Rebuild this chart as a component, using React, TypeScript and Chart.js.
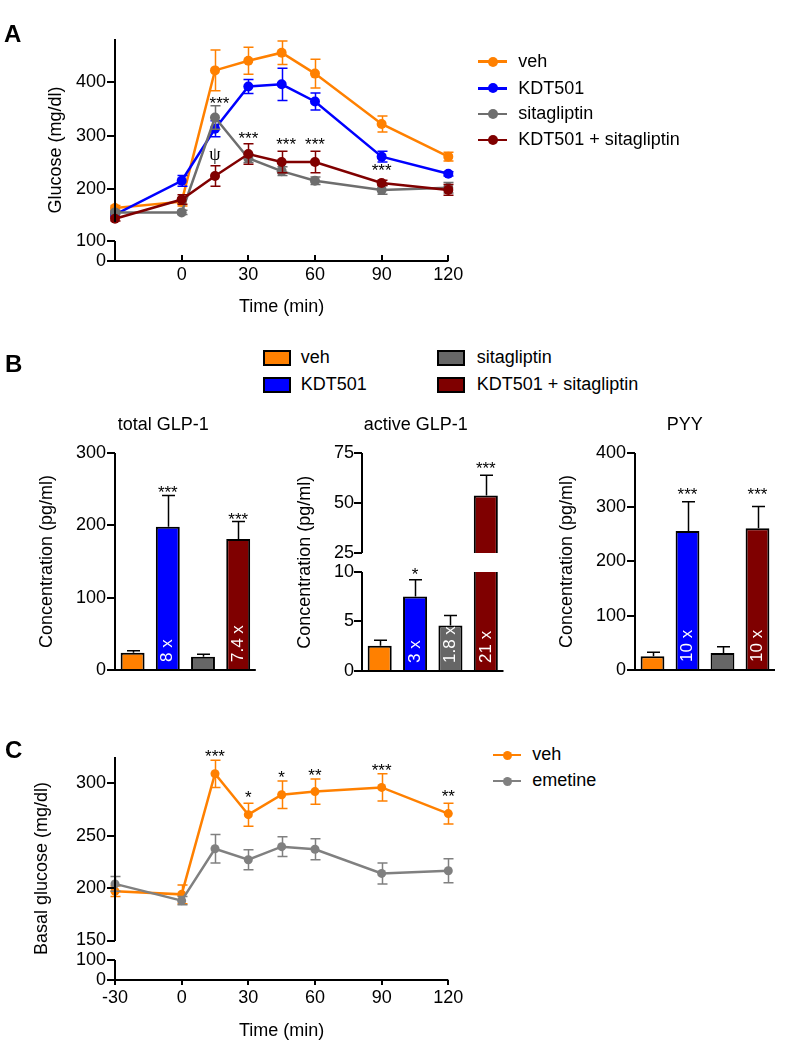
import React, { useEffect, useRef } from 'react';
import { Chart, registerables, LinearScale } from 'chart.js';

Chart.register(...registerables);

const FONT = '"Liberation Sans", Arial, Helvetica, sans-serif';
const SERIF = '"Liberation Serif", "DejaVu Serif", serif';

// ---------------- Panel A: glucose tolerance ----------------
const timeA = [-30, 0, 15, 30, 45, 60, 90, 120];
const vehA = [165, 177, 422, 440, 455, 416, 322, 261];
const vehSemA = [5, 8, 38, 25, 22, 27, 15, 8];
const kdtA = [153, 216, 313, 392, 396, 364, 261, 229];
const kdtSemA = [5, 10, 15, 13, 30, 16, 10, 4];
const sitaA = [157, 157, 334, 258, 234, 216, 199, 203];
const sitaSemA = [4, 4, 22, 8, 8, 7, 8, 10];
const comboA = [145, 181, 225, 266, 251, 251, 212, 199];
const comboSemA = [4, 9, 19, 19, 20, 20, 5, 10];
const namesA = ['veh', 'KDT501', 'sitagliptin', 'KDT501 + sitagliptin'];
const yTicksA = [0, 100, 200, 300, 400];
const xTicksA = [0, 30, 60, 90, 120];
const marksA = [
  { x: 17, y: 367, t: '***' },
  { x: 15, y: 262, t: 'ψ' },
  { x: 30, y: 302, t: '***' },
  { x: 47, y: 290, t: '***' },
  { x: 60, y: 290, t: '***' },
  { x: 90, y: 241, t: '***' },
];

// ---------------- Panel B: hormones ----------------
const groupsB = ['veh', 'KDT501', 'sitagliptin', 'KDT501 + sitagliptin'];
const totalGlp = [24, 198, 18.5, 181];
const totalGlpSem = [3, 43, 3.5, 24];
const totalGlpFold = ['', '8 x', '', '7.4 x'];
const totalGlpMarks = [{ x: 1, y: 250, t: '***' }, { x: 3, y: 213, t: '***' }];
const yTicksB1 = [0, 100, 200, 300];

const activeGlp = [2.55, 7.5, 4.6, 53.8];
const activeGlpSem = [0.55, 1.7, 1.0, 10.2];
const activeGlpFold = ['', '3 x', '1.8 x', '21 x'];
const activeGlpMarks = [{ x: 1, y: 10.2, t: '*' }, { x: 3, y: 69.2, t: '***' }];
const yTicksB2 = [0, 5, 10, 25, 50, 75];

const pyy = [25.7, 256, 31.7, 261];
const pyySem = [7.3, 54, 11.3, 40];
const pyyFold = ['', '10 x', '', '10 x'];
const pyyMarks = [{ x: 1, y: 329.5, t: '***' }, { x: 3, y: 329.5, t: '***' }];
const yTicksB3 = [0, 100, 200, 300, 400];

// ---------------- Panel C: basal glucose ----------------
const timeC = [-30, 0, 15, 30, 45, 60, 90, 120];
const vehC = [197, 194, 309, 270, 289, 292, 296, 271];
const vehSemC = [5, 9, 13, 11, 13, 12, 13, 10];
const emeC = [204, 188, 237.5, 227, 239.5, 237, 214, 216.5];
const emeSemC = [7, 4, 13.5, 9.5, 9.5, 10, 10, 11.5];
const namesC = ['veh', 'emetine'];
const yTicksC = [0, 100, 150, 200, 250, 300];
const xTicksC = [-30, 0, 30, 60, 90, 120];
const marksC = [
  { x: 15, y: 328.6, t: '***' },
  { x: 30, y: 289.8, t: '*' },
  { x: 45, y: 308.9, t: '*' },
  { x: 60, y: 310.3, t: '**' },
  { x: 90, y: 315.7, t: '***' },
  { x: 120, y: 290.6, t: '**' },
];

const COL = { veh: '#FF8000', kdt: '#0000FF', sita: '#6E6E6E', combo: '#800000', eme: '#808080' };
const BAR_COLORS = ['#FF8000', '#0000FF', '#666666', '#7F0000'];

// ---------------- broken (segmented) y scale ----------------
type Seg = { min: number; max: number; lo: number; hi: number };
function segDecimal(segs: Seg[], v: number) {
  const a = segs[0];
  const b = segs[segs.length - 1];
  if (segs.length === 1 || v <= a.max) return a.lo + ((v - a.min) / (a.max - a.min)) * (a.hi - a.lo);
  if (v >= b.min) return b.lo + ((v - b.min) / (b.max - b.min)) * (b.hi - b.lo);
  return a.hi + ((v - a.max) / (b.min - a.max)) * (b.lo - a.hi);
}
function segValue(segs: Seg[], d: number) {
  const a = segs[0];
  const b = segs[segs.length - 1];
  if (segs.length === 1 || d <= a.hi) return a.min + ((d - a.lo) / (a.hi - a.lo)) * (a.max - a.min);
  if (d >= b.lo) return b.min + ((d - b.lo) / (b.hi - b.lo)) * (b.max - b.min);
  return a.max + ((d - a.hi) / (b.lo - a.hi)) * (b.min - a.max);
}
function makeBroken(scaleId: string, segs: Seg[]) {
  class Broken extends LinearScale {
    static id = scaleId;
    static defaults = LinearScale.defaults;
    getPixelForValue(value: number) {
      return (this as any).getPixelForDecimal(segDecimal(segs, value));
    }
    getValueForPixel(pixel: number) {
      return segValue(segs, (this as any).getDecimalForPixel(pixel));
    }
  }
  return Broken;
}

// geometry (page pixels)
const GEO_A = { cx: 0, cy: 0, cw: 480, ch: 330, l: 115, t: 39.3, r: 448.3, b: 260.7 };
const GEO_C = { cx: 0, cy: 720, cw: 480, ch: 338, l: 115, t: 757, r: 448.3, b: 980 };
const GEO_B1 = { cx: 0, cy: 400, cw: 272, ch: 290, l: 115, t: 452.7, r: 255.8, b: 675 };
const GEO_B2 = { cx: 250, cy: 400, cw: 270, ch: 290, l: 362, t: 453.3, r: 503.5, b: 676 };
const GEO_B3 = { cx: 520, cy: 400, cw: 267, ch: 290, l: 635, t: 452.7, r: 775, b: 675.3 };

const hA = GEO_A.b - GEO_A.t;
const BrokenA = makeBroken('brokenA', [
  { min: 0, max: 100, lo: 0, hi: 20 / hA },
  { min: 140, max: 480, lo: (GEO_A.b - 221.5) / hA, hi: 1 },
]);
const hC = GEO_C.b - GEO_C.t;
const BrokenC = makeBroken('brokenC', [
  { min: 0, max: 100, lo: 0, hi: 20 / hC },
  { min: 150, max: 325, lo: (GEO_C.b - 940.5) / hC, hi: 1 },
]);
const hB2 = GEO_B2.b - GEO_B2.t;
const BrokenB2 = makeBroken('brokenB2', [
  { min: 0, max: 10, lo: 0, hi: (GEO_B2.b - 574.3) / hB2 },
  { min: 25, max: 75, lo: (GEO_B2.b - 555.3) / hB2, hi: 1 },
]);
Chart.register(BrokenA as any, BrokenC as any, BrokenB2 as any);

// ---------------- decoration plugin (axes, error bars, marks) ----------------
type Deco = {
  ySegs: [number, number][];
  yTicks: number[];
  xTicks?: number[];
  xTickDir?: number;
  xTickLen?: number;
  gap?: [number, number];
  errors: number[][];
  upOnly?: boolean;
  capHalf: number;
  marks: { x: number; y: number; t: string }[];
  barLabels?: string[];
};

function decoPlugin(d: Deco) {
  const drawErr = (chart: any, i: number) => {
    const ctx = chart.ctx;
    const ys = chart.scales.y;
    const ds = chart.data.datasets[i];
    const meta = chart.getDatasetMeta(i);
    const sem = d.errors[i];
    if (!sem) return;
    ctx.save();
    ctx.strokeStyle = d.upOnly ? '#000' : ds.borderColor;
    ctx.lineWidth = 1.5;
    ctx.beginPath();
    meta.data.forEach((el: any, j: number) => {
      const raw = ds.data[j];
      const v = typeof raw === 'number' ? raw : raw.y;
      const x = Math.round(el.x) + 0.5;
      const yt = ys.getPixelForValue(v + sem[j]);
      const yb = d.upOnly ? ys.getPixelForValue(v) : ys.getPixelForValue(v - sem[j]);
      ctx.moveTo(x, yb);
      ctx.lineTo(x, yt);
      ctx.moveTo(x - d.capHalf, yt);
      ctx.lineTo(x + d.capHalf, yt);
      if (!d.upOnly) {
        ctx.moveTo(x - d.capHalf, yb);
        ctx.lineTo(x + d.capHalf, yb);
      }
    });
    ctx.stroke();
    ctx.restore();
  };
  return {
    id: 'deco',
    beforeDatasetDraw(chart: any, args: any) {
      if (!d.upOnly) drawErr(chart, args.index);
    },
    afterDatasetDraw(chart: any, args: any) {
      if (!d.upOnly) return;
      const { ctx, chartArea: a } = chart;
      const ys = chart.scales.y;
      if (d.gap) {
        const y1 = ys.getPixelForValue(d.gap[1]);
        const y0 = ys.getPixelForValue(d.gap[0]);
        ctx.save();
        ctx.fillStyle = '#fff';
        ctx.fillRect(a.left + 1, Math.round(y1), a.right - a.left + 5, Math.round(y0) - Math.round(y1));
        ctx.restore();
      }
      drawErr(chart, args.index);
    },
    afterDraw(chart: any) {
      const { ctx, chartArea: a } = chart;
      const xs = chart.scales.x;
      const ys = chart.scales.y;
      const L = Math.round(a.left);
      const yb = Math.round(ys.getPixelForValue(0));
      ctx.save();
      ctx.strokeStyle = '#000';
      ctx.lineWidth = 2;
      ctx.beginPath();
      for (const [lo, hi] of d.ySegs) {
        ctx.moveTo(L, Math.round(ys.getPixelForValue(lo)));
        ctx.lineTo(L, Math.round(ys.getPixelForValue(hi)));
      }
      ctx.moveTo(L - 1, yb);
      ctx.lineTo(a.right, yb);
      for (const v of d.yTicks) {
        const y = Math.round(ys.getPixelForValue(v));
        ctx.moveTo(L - 8, y);
        ctx.lineTo(L, y);
      }
      if (d.xTicks) {
        for (const v of d.xTicks) {
          const x = Math.round(xs.getPixelForValue(v));
          ctx.moveTo(x, yb);
          ctx.lineTo(x, yb + (d.xTickDir || 1) * (d.xTickLen || 5));
        }
      }
      ctx.stroke();
      // significance marks
      ctx.fillStyle = '#000';
      ctx.textAlign = 'center';
      ctx.textBaseline = 'alphabetic';
      for (const m of d.marks) {
        ctx.font = m.t === 'ψ' ? `18px ${SERIF}` : `17px ${FONT}`;
        const tm = ctx.measureText(m.t);
        const yc = ys.getPixelForValue(m.y);
        const y = yc + (tm.actualBoundingBoxAscent - tm.actualBoundingBoxDescent) / 2;
        ctx.fillText(m.t, xs.getPixelForValue(m.x), y);
      }
      // fold-change labels inside bars
      if (d.barLabels) {
        const meta = chart.getDatasetMeta(0);
        meta.data.forEach((bar: any, i: number) => {
          const t = d.barLabels![i];
          if (!t) return;
          ctx.save();
          ctx.translate(bar.x, yb - 8);
          ctx.rotate(-Math.PI / 2);
          ctx.textAlign = 'left';
          ctx.textBaseline = 'middle';
          ctx.fillStyle = '#fff';
          ctx.font = `17px ${FONT}`;
          ctx.fillText(t, 0, 0);
          ctx.restore();
        });
      }
      ctx.restore();
    },
  };
}

// ---------------- config helpers ----------------
const tickFont = { family: FONT, size: 18 };

function yAxis(type: string, min: number, max: number, ticks: number[], title: string, width: number, titlePad: number, tickPad = 9) {
  return {
    type,
    min,
    max,
    position: 'left',
    afterBuildTicks: (s: any) => {
      s.ticks = ticks.map((v) => ({ value: v }));
    },
    afterFit: (s: any) => {
      s.width = width;
    },
    grid: { display: false, drawTicks: false },
    border: { display: false },
    ticks: { autoSkip: false, padding: tickPad, color: '#000', font: tickFont, callback: (v: any) => String(v) },
    title: { display: true, text: title, color: '#000', font: tickFont, padding: { top: titlePad, bottom: 0 } },
  };
}

function xLinear(min: number, max: number, ticks: number[], height: number, tickPad: number, titlePad: number) {
  return {
    type: 'linear',
    min,
    max,
    position: 'bottom',
    afterBuildTicks: (s: any) => {
      s.ticks = ticks.map((v) => ({ value: v }));
    },
    afterFit: (s: any) => {
      s.height = height;
    },
    grid: { display: false, drawTicks: false },
    border: { display: false },
    ticks: { autoSkip: false, maxRotation: 0, padding: tickPad, color: '#000', font: tickFont, callback: (v: any) => String(v) },
    title: { display: true, text: 'Time (min)', color: '#000', font: tickFont, padding: { top: 0, bottom: titlePad } },
  };
}

function baseOptions(g: any, scales: any, bottomPad: number) {
  return {
    animation: false,
    responsive: false,
    devicePixelRatio: 1,
    events: [],
    layout: { padding: { left: 0, top: g.t - g.cy, right: g.cx + g.cw - g.r, bottom: bottomPad } },
    plugins: { legend: { display: false }, tooltip: { enabled: false }, title: { display: false } },
    scales,
  };
}

function lineDs(label: string, xs: number[], ys: number[], color: string, order: number, radius: number) {
  return {
    label,
    data: xs.map((x, i) => ({ x, y: ys[i] })),
    borderColor: color,
    backgroundColor: color,
    pointBackgroundColor: color,
    pointBorderColor: color,
    pointBorderWidth: 0,
    pointRadius: radius,
    borderWidth: 2.5,
    tension: 0,
    fill: false,
    clip: false,
    order,
  };
}

function cfgA() {
  const g = GEO_A;
  return {
    type: 'line',
    data: {
      datasets: [
        lineDs(namesA[0], timeA, vehA, COL.veh, 4, 5),
        lineDs(namesA[1], timeA, kdtA, COL.kdt, 3, 5),
        lineDs(namesA[2], timeA, sitaA, COL.sita, 2, 5),
        lineDs(namesA[3], timeA, comboA, COL.combo, 1, 5),
      ],
    },
    options: baseOptions(
      g,
      {
        x: xLinear(-30, 120, xTicksA, g.cy + g.ch - g.b, 3.5, 12.5),
        y: yAxis('brokenA', 0, 480, yTicksA, 'Glucose (mg/dl)', g.l - g.cx, 45.2),
      },
      0
    ),
    plugins: [
      decoPlugin({
        ySegs: [[0, 100], [140, 480]],
        yTicks: yTicksA,
        xTicks: xTicksA,
        xTickDir: -1,
        xTickLen: 6,
        errors: [vehSemA, kdtSemA, sitaSemA, comboSemA],
        capHalf: 5,
        marks: marksA,
      }),
    ],
  };
}

function cfgC() {
  const g = GEO_C;
  return {
    type: 'line',
    data: {
      datasets: [
        lineDs(namesC[0], timeC, vehC, COL.veh, 2, 4.5),
        lineDs(namesC[1], timeC, emeC, COL.eme, 1, 4.5),
      ],
    },
    options: baseOptions(
      g,
      {
        x: xLinear(-30, 120, xTicksC, g.cy + g.ch - g.b, 7.5, 16.2),
        y: yAxis('brokenC', 0, 325, yTicksC, 'Basal glucose (mg/dl)', g.l - g.cx, 31.2),
      },
      0
    ),
    plugins: [
      decoPlugin({
        ySegs: [[0, 100], [150, 325]],
        yTicks: yTicksC,
        xTicks: xTicksC,
        xTickDir: 1,
        xTickLen: 5,
        errors: [vehSemC, emeSemC],
        capHalf: 5,
        marks: marksC,
      }),
    ],
  };
}

function cfgBar(g: any, type: string, max: number, ticks: number[], values: number[], sem: number[], fold: string[], marks: any[], segs: [number, number][], titlePad: number, tickPad: number, gap?: [number, number]) {
  return {
    type: 'bar',
    data: {
      labels: groupsB,
      datasets: [
        {
          data: values,
          backgroundColor: BAR_COLORS,
          borderColor: '#000',
          borderWidth: 2,
          borderSkipped: 'start',
          barPercentage: 0.68,
          categoryPercentage: 1,
        },
      ],
    },
    options: baseOptions(
      g,
      {
        x: { type: 'category', display: false, offset: true },
        y: yAxis(type, 0, max, ticks, 'Concentration (pg/ml)', g.l - g.cx, titlePad, tickPad),
      },
      g.cy + g.ch - g.b
    ),
    plugins: [
      decoPlugin({
        ySegs: segs,
        yTicks: ticks,
        gap,
        errors: [sem],
        upOnly: true,
        capHalf: 6.5,
        marks,
        barLabels: fold,
      }),
    ],
  };
}

function ChartBox({ g, make }: { g: any; make: () => any }) {
  const ref = useRef<HTMLCanvasElement>(null);
  useEffect(() => {
    const chart = new Chart(ref.current as HTMLCanvasElement, make());
    return () => chart.destroy();
  }, []);
  return (
    <canvas
      ref={ref}
      width={g.cw}
      height={g.ch}
      style={{ position: 'absolute', left: g.cx, top: g.cy, width: g.cw, height: g.ch }}
    />
  );
}

// text placed by baseline
function Txt({ x, base, size = 18, bold = false, center = false, children }: any) {
  const top = base - 0.8465 * size;
  const style: any = {
    position: 'absolute',
    top,
    fontFamily: FONT,
    fontSize: size,
    lineHeight: `${size}px`,
    fontWeight: bold ? 700 : 400,
    whiteSpace: 'nowrap',
    color: '#000',
  };
  if (center) {
    style.left = x - 150;
    style.width = 300;
    style.textAlign = 'center';
  } else {
    style.left = x;
  }
  return <div style={style}>{children}</div>;
}

function LineKey({ x0, x1, cy, r, color }: any) {
  return (
    <>
      <div style={{ position: 'absolute', left: x0, top: cy - 1.25, width: x1 - x0, height: 2.5, background: color }} />
      <div
        style={{
          position: 'absolute',
          left: (x0 + x1) / 2 - r,
          top: cy - r,
          width: 2 * r,
          height: 2 * r,
          borderRadius: '50%',
          background: color,
        }}
      />
    </>
  );
}

function BoxKey({ x, cy, color }: any) {
  return (
    <div
      style={{
        position: 'absolute',
        left: x,
        top: cy - 8,
        width: 28,
        height: 16,
        boxSizing: 'border-box',
        border: '2px solid #000',
        background: color,
      }}
    />
  );
}

export default function App() {
  const legendAY = [61.7, 88.3, 114, 140];
  const legendAColors = [COL.veh, COL.kdt, COL.sita, COL.combo];
  const legendCY = [755, 781];
  const legendCColors = [COL.veh, COL.eme];
  return (
    <div style={{ position: 'absolute', left: 0, top: 0, width: 787, height: 1058, background: '#fff', overflow: 'hidden' }}>
      <ChartBox g={GEO_A} make={cfgA} />
      <ChartBox
        g={GEO_B1}
        make={() => cfgBar(GEO_B1, 'linear', 300, yTicksB1, totalGlp, totalGlpSem, totalGlpFold, totalGlpMarks, [[0, 300]], 36.2, 9)}
      />
      <ChartBox
        g={GEO_B2}
        make={() => cfgBar(GEO_B2, 'brokenB2', 75, yTicksB2, activeGlp, activeGlpSem, activeGlpFold, activeGlpMarks, [[0, 10], [25, 75]], 43.9, 8, [10, 25])}
      />
      <ChartBox
        g={GEO_B3}
        make={() => cfgBar(GEO_B3, 'linear', 400, yTicksB3, pyy, pyySem, pyyFold, pyyMarks, [[0, 400]], 36.2, 9)}
      />
      <ChartBox g={GEO_C} make={cfgC} />

      {/* panel letters */}
      <Txt x={4} base={42.7} size={24} bold>A</Txt>
      <Txt x={5} base={372.7} size={24} bold>B</Txt>
      <Txt x={5} base={758.5} size={24} bold>C</Txt>

      {/* legend A */}
      {namesA.map((n, i) => (
        <React.Fragment key={n}>
          <LineKey x0={478} x1={507} cy={legendAY[i]} r={5} color={legendAColors[i]} />
          <Txt x={518.3} base={legendAY[i] + 5.7}>{n}</Txt>
        </React.Fragment>
      ))}

      {/* legend B */}
      <BoxKey x={262.7} cy={358} color={BAR_COLORS[0]} />
      <Txt x={300.7} base={363.4}>{groupsB[0]}</Txt>
      <BoxKey x={262.7} cy={384.5} color={BAR_COLORS[1]} />
      <Txt x={300.7} base={390}>{groupsB[1]}</Txt>
      <BoxKey x={436.7} cy={358} color={BAR_COLORS[2]} />
      <Txt x={476.7} base={363.4}>{groupsB[2]}</Txt>
      <BoxKey x={436.7} cy={384.5} color={BAR_COLORS[3]} />
      <Txt x={476.7} base={390}>{groupsB[3]}</Txt>

      {/* panel B titles */}
      <Txt x={163.3} base={430} center>total GLP-1</Txt>
      <Txt x={415.8} base={430} center>active GLP-1</Txt>
      <Txt x={684.7} base={430} center>PYY</Txt>

      {/* legend C */}
      {namesC.map((n, i) => (
        <React.Fragment key={n}>
          <LineKey x0={493.3} x1={521} cy={legendCY[i]} r={4.5} color={legendCColors[i]} />
          <Txt x={532.3} base={legendCY[i] + 5}>{n}</Txt>
        </React.Fragment>
      ))}
    </div>
  );
}
